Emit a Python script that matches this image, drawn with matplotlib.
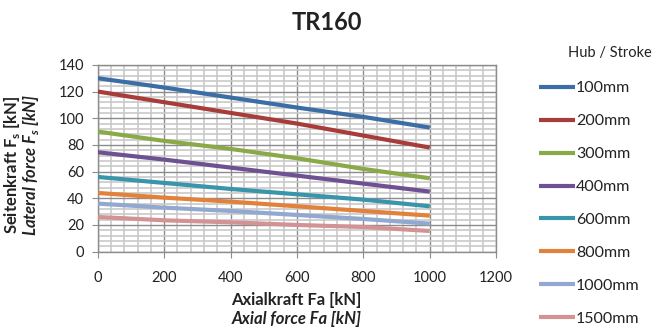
import matplotlib
matplotlib.use("Agg")
import matplotlib.pyplot as plt
from matplotlib.ticker import MultipleLocator

plt.rcParams['font.family'] = ['Lato', 'DejaVu Sans']

# Axial force positions [kN]
axial_force = [0, 200, 400, 600, 800, 1000]

# Lateral force [kN] per stroke length
strokes = ["100mm", "200mm", "300mm", "400mm", "600mm", "800mm", "1000mm", "1500mm"]
f_100 = [130, 123, 115.5, 108, 101, 93]
f_200 = [120, 112, 104, 96, 87, 78]
f_300 = [90, 83, 77, 70, 62, 55]
f_400 = [74.5, 69, 63, 57, 51, 45]
f_600 = [56, 51.5, 47, 43, 39, 34]
f_800 = [44, 40.5, 37.5, 34, 30.5, 27]
f_1000 = [36, 33, 30.5, 27.5, 24.5, 21]
f_1500 = [26, 23.5, 22, 20, 18.5, 15.5]
series = [f_100, f_200, f_300, f_400, f_600, f_800, f_1000, f_1500]

colors = ["#3A6EA5", "#A83C3A", "#8AAA48", "#6E5193",
          "#3895AA", "#E2823A", "#91A8D0", "#D39293"]

TXT = '#222222'

fig = plt.figure(figsize=(6.52, 3.36), dpi=100)
ax = fig.add_axes([0.150, 0.251, 0.611, 0.556])

for vals, col, lab in zip(series, colors, strokes):
    ax.plot(axial_force, vals, color=col, lw=3.0, label=lab,
            solid_capstyle='butt', zorder=3)

ax.set_xlim(0, 1200)
ax.set_ylim(0, 140)
ax.xaxis.set_major_locator(MultipleLocator(200))
ax.xaxis.set_minor_locator(MultipleLocator(40))
ax.yaxis.set_major_locator(MultipleLocator(20))
ax.yaxis.set_minor_locator(MultipleLocator(4))
ax.grid(which='minor', color='#C9C9C9', lw=1.2, zorder=1)
ax.grid(which='major', color='#8C8C8C', lw=1.0, zorder=2)
ax.set_axisbelow(True)
for s in ax.spines.values():
    s.set_color('#8C8C8C')
    s.set_linewidth(1.0)
ax.tick_params(which='major', length=4, color='#8C8C8C', labelsize=10.5,
               labelcolor=TXT, pad=6)
ax.tick_params(axis='x', pad=10)
ax.tick_params(which='minor', length=0)

fig.text(0.502, 0.932, "TR160", ha='center', va='center',
         fontsize=17, fontweight='bold', color=TXT)

fig.text(0.019, 0.51, r"Seitenkraft F$_\mathregular{s}$ [kN]", rotation=90,
         ha='center', va='center', fontsize=12, fontweight='bold', color=TXT)
fig.text(0.047, 0.51, r"Lateral force F$_\mathregular{s}$ [kN]", rotation=90,
         ha='center', va='center', fontsize=12, fontweight='bold',
         style='italic', color=TXT)

fig.text(0.455, 0.106, "Axialkraft Fa [kN]", ha='center', va='center',
         fontsize=12, fontweight='bold', color=TXT)
fig.text(0.455, 0.050, "Axial force Fa [kN]", ha='center', va='center',
         fontsize=12, fontweight='bold', style='italic', color=TXT)

fig.text(0.935, 0.842, "Hub / Stroke", ha='center', va='center',
         fontsize=10.5, color=TXT)

leg = fig.legend(loc='upper left', bbox_to_anchor=(0.826, 0.758),
                 frameon=False, fontsize=11.5, handlelength=2.3,
                 handletextpad=0.05, labelspacing=1.17,
                 borderaxespad=0, borderpad=0)
for t in leg.get_texts():
    t.set_color(TXT)

fig.savefig("out.png", dpi=100)
